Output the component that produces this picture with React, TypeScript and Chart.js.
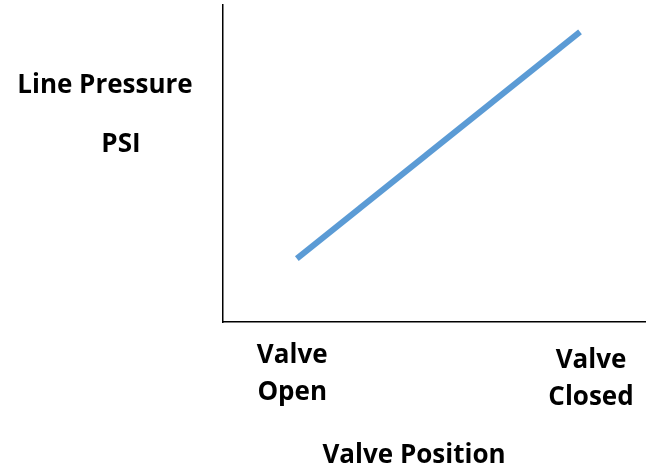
import React, { useEffect, useRef } from "react";
import { Chart, registerables } from "chart.js";

Chart.register(...registerables);

// Data
const positions = [17.5, 84.6]; // valve position (open -> closed), % of axis
const pressures = [20, 91.5]; // line pressure, % of axis
const categoryLabels = [["Valve", "Open"], ["Valve", "Closed"]];
const categoryLabelPositions = [16.4, 87.2];
const yTitleLines = ["Line Pressure", "PSI"];
const xTitle = "Valve Position";

const FONT = "bold 26px 'Open Sans', 'DejaVu Sans', sans-serif";

const textPlugin = {
  id: "textLabels",
  afterDraw(chart: any) {
    const { ctx, scales } = chart;
    const x = scales.x;
    ctx.save();
    ctx.font = FONT;
    ctx.fillStyle = "#000";
    ctx.textAlign = "center";
    ctx.textBaseline = "alphabetic";
    // y title lines
    ctx.fillText(yTitleLines[0], 105, 93);
    ctx.fillText(yTitleLines[1], 121, 152);
    // category labels under x axis
    const baseY = [[363, 400], [368, 405]];
    categoryLabels.forEach((lines, i) => {
      const px = x.getPixelForValue(categoryLabelPositions[i]);
      lines.forEach((t, j) => ctx.fillText(t, px, baseY[i][j]));
    });
    // x title
    ctx.fillText(xTitle, 414, 463);
    ctx.restore();
  },
};

export default function App() {
  const ref = useRef<HTMLCanvasElement | null>(null);
  useEffect(() => {
    if (!ref.current) return;
    const chart = new Chart(ref.current, {
      type: "line",
      data: {
        datasets: [
          {
            data: positions.map((p, i) => ({ x: p, y: pressures[i] })),
            borderColor: "#5B9BD5",
            borderWidth: 6,
            borderCapStyle: "butt",
            pointRadius: 0,
            fill: false,
          },
        ],
      },
      options: {
        animation: false,
        responsive: false,
        layout: { padding: { left: 223, top: 5, right: 1, bottom: 147 } },
        plugins: { legend: { display: false }, tooltip: { enabled: false } },
        scales: {
          x: {
            type: "linear",
            min: 0,
            max: 100,
            grid: { display: false, drawTicks: false },
            ticks: { display: false },
            border: { display: true, color: "#000", width: 1.5 },
          },
          y: {
            type: "linear",
            min: 0,
            max: 100,
            grid: { display: false, drawTicks: false },
            ticks: { display: false },
            border: { display: true, color: "#000", width: 1.5 },
          },
        },
      },
      plugins: [textPlugin],
    });
    return () => chart.destroy();
  }, []);
  return (
    <div style={{ position: "absolute", left: 0, top: 0, width: 646, height: 469, background: "#fff" }}>
      <canvas ref={ref} width={646} height={469} style={{ display: "block" }} />
    </div>
  );
}
